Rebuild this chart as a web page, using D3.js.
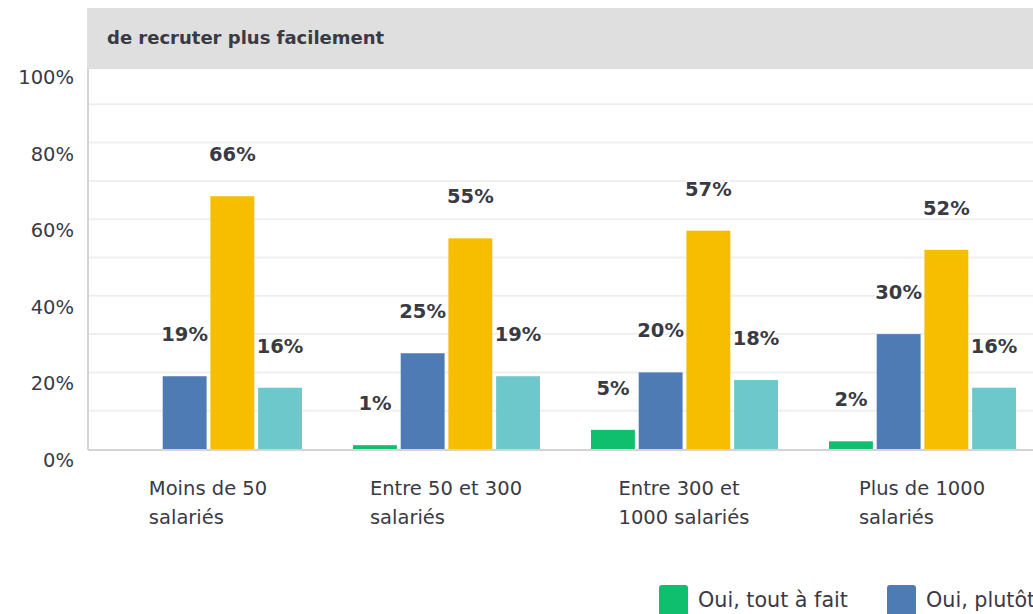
<!DOCTYPE html>
<html>
<head>
<meta charset="utf-8">
<script src="https://cdn.jsdelivr.net/npm/d3@7"></script>
<style>
  body { margin: 0; background: #fff; overflow: hidden; }
  svg text { font-family: "DejaVu Sans", sans-serif; fill: #3a3a44; }
</style>
</head>
<body>
<div id="chart"></div>
<script>
// data
var categories = ["Moins de 50 salariés", "Entre 50 et 300 salariés", "Entre 300 et 1000 salariés", "Plus de 1000 salariés"];
var categoryLines = [["Moins de 50", "salariés"], ["Entre 50 et 300", "salariés"], ["Entre 300 et", "1000 salariés"], ["Plus de 1000", "salariés"]];
var series = ["Oui, tout à fait", "Oui, plutôt", "Non, plutôt pas", "Non, pas du tout"];
var colors = ["#0fbf6d", "#4f7bb4", "#f7be00", "#6cc8cb"];
var toutAFait = [0, 1, 5, 2];
var plutot = [19, 25, 20, 30];
var plutotPas = [66, 55, 57, 52];
var pasDuTout = [16, 19, 18, 16];
var yTicks = [0, 20, 40, 60, 80, 100];
var title = "de recruter plus facilement";

var seriesValues = [toutAFait, plutot, plutotPas, pasDuTout];

var width = 1033, height = 614;
var margin = { top: 66, left: 88, bottom: 449 };

var svg = d3.select("#chart").append("svg")
    .attr("width", width)
    .attr("height", height);

var x0 = d3.scaleBand()
    .domain(categories)
    .range([margin.left + 1, margin.left + 1 + 4 * 238]);

var x1 = d3.scaleBand()
    .domain(series)
    .range([26, 213])
    .paddingInner(0.08);

var y = d3.scaleLinear()
    .domain([0, 100])
    .range([margin.bottom, margin.top]);

// gridlines every 10%
svg.append("g")
    .attr("class", "grid")
    .selectAll("line")
    .data(d3.range(10, 101, 10))
    .enter().append("line")
    .attr("x1", margin.left)
    .attr("x2", width)
    .attr("y1", function (d) { return y(d); })
    .attr("y2", function (d) { return y(d); })
    .attr("stroke", "#efefef")
    .attr("stroke-width", 2);

// header band
svg.append("rect")
    .attr("x", margin.left - 1)
    .attr("y", 8)
    .attr("width", width)
    .attr("height", 61)
    .attr("fill", "#dfdfdf");

svg.append("text")
    .attr("x", 107)
    .attr("y", 44)
    .attr("font-size", 18)
    .attr("font-weight", "bold")
    .text(title);

// y tick labels (sit a little below their gridline)
svg.append("g")
    .selectAll("text")
    .data(yTicks)
    .enter().append("text")
    .attr("x", 74)
    .attr("y", function (d) { return y(d) + 18; })
    .attr("text-anchor", "end")
    .attr("font-size", 19.5)
    .text(function (d) { return d + "%"; });

// left axis line
svg.append("line")
    .attr("x1", margin.left).attr("x2", margin.left)
    .attr("y1", 69).attr("y2", margin.bottom + 1)
    .attr("stroke", "#d4d4d4").attr("stroke-width", 2);

// bars
var groups = svg.append("g")
    .selectAll("g")
    .data(categories)
    .enter().append("g")
    .attr("transform", function (d) { return "translate(" + x0(d) + ",0)"; });

groups.selectAll("rect")
    .data(function (d, i) {
        return series.map(function (s, j) { return { key: s, value: seriesValues[j][i], color: colors[j] }; });
    })
    .enter().append("rect")
    .attr("x", function (d) { return x1(d.key); })
    .attr("y", function (d) { return y(d.value); })
    .attr("width", x1.bandwidth())
    .attr("height", function (d) { return margin.bottom - y(d.value); })
    .attr("fill", function (d) { return d.color; });

groups.selectAll("text.val")
    .data(function (d, i) {
        return series.map(function (s, j) { return { key: s, value: seriesValues[j][i] }; });
    })
    .enter().filter(function (d) { return d.value > 0; })
    .append("text")
    .attr("class", "val")
    .attr("x", function (d) { return x1(d.key) + x1.bandwidth() / 2; })
    .attr("y", function (d) { return y(d.value) - 35; })
    .attr("text-anchor", "middle")
    .attr("font-size", 19.5)
    .attr("font-weight", "bold")
    .attr("stroke", "#fff")
    .attr("stroke-width", 3)
    .attr("paint-order", "stroke")
    .text(function (d) { return d.value + "%"; });

// baseline
svg.append("line")
    .attr("x1", margin.left).attr("x2", width)
    .attr("y1", margin.bottom + 1).attr("y2", margin.bottom + 1)
    .attr("stroke", "#d4d4d4").attr("stroke-width", 2);

// category labels: block centered, lines left aligned
categories.forEach(function (c, i) {
    var cx = x0(c) + x0.bandwidth() / 2;
    var t = svg.append("text")
        .attr("font-size", 19.5);
    categoryLines[i].forEach(function (line, k) {
        t.append("tspan")
            .attr("x", 0)
            .attr("y", 495 + k * 29)
            .text(line);
    });
    var w = d3.max(t.selectAll("tspan").nodes(), function (n) { return n.getComputedTextLength(); });
    t.selectAll("tspan").attr("x", cx - w / 2);
});

// legend
var legendX = [659, 887, 1095, 1340];
var legend = svg.append("g")
    .selectAll("g")
    .data(series)
    .enter().append("g")
    .attr("transform", function (d, i) { return "translate(" + legendX[i] + ",585)"; });

legend.append("rect")
    .attr("width", 29)
    .attr("height", 31)
    .attr("rx", 3)
    .attr("fill", function (d, i) { return colors[i]; });

legend.append("text")
    .attr("x", 39)
    .attr("y", 22)
    .attr("font-size", 20.7)
    .text(function (d) { return d; });
</script>
</body>
</html>
